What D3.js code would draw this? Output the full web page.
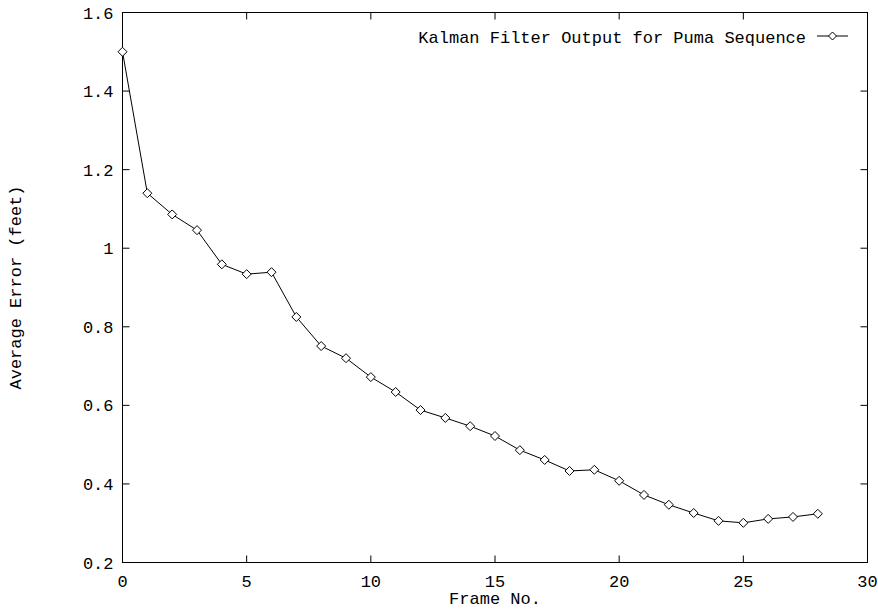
<!DOCTYPE html>
<html><head><meta charset="utf-8">
<script src="https://cdn.jsdelivr.net/npm/d3@7"></script>
<style>body{margin:0;background:#fff}svg{display:block}text{font-family:"Liberation Mono","DejaVu Sans Mono",monospace;font-size:17px;fill:#000}</style>
</head><body>
<script>
const frames = d3.range(0, 29);
const errors = [1.50,1.140,1.086,1.046,0.959,0.934,0.939,0.825,0.751,0.720,0.672,0.634,0.588,0.568,0.547,0.522,0.486,0.461,0.433,0.436,0.408,0.372,0.347,0.326,0.306,0.301,0.311,0.316,0.324];
const xTicks = [0,5,10,15,20,25,30];
const yTicks = [0.2,0.4,0.6,0.8,1,1.2,1.4,1.6];
const seriesLabel = "Kalman Filter Output for Puma Sequence";

const W = 878, H = 610;
const L = 122.5, R = 867.5, T = 12.5, B = 562.5;
const svg = d3.select("body").append("svg").attr("width", W).attr("height", H);
const x = d3.scaleLinear().domain([0,30]).range([L,R]);
const y = d3.scaleLinear().domain([0.2,1.6]).range([B,T]);
const tl = 7;
const g = svg.append("g").attr("stroke","#000").attr("stroke-width",1).attr("fill","none");
g.append("rect").attr("x",L).attr("y",T).attr("width",R-L).attr("height",B-T);
xTicks.forEach(t => {
  g.append("line").attr("x1",x(t)).attr("x2",x(t)).attr("y1",B).attr("y2",B-tl);
  g.append("line").attr("x1",x(t)).attr("x2",x(t)).attr("y1",T).attr("y2",T+tl);
  svg.append("text").attr("x",x(t)).attr("y",B+24).attr("text-anchor","middle").text(d3.format("d")(t));
});
yTicks.forEach(t => {
  g.append("line").attr("x1",L).attr("x2",L+tl).attr("y1",y(t)).attr("y2",y(t));
  g.append("line").attr("x1",R).attr("x2",R-tl).attr("y1",y(t)).attr("y2",y(t));
  svg.append("text").attr("x",L-9).attr("y",y(t)+6).attr("text-anchor","end").text(t===1?"1":d3.format(".1f")(t));
});
svg.append("text").attr("x",(L+R)/2).attr("y",604).attr("text-anchor","middle").text("Frame No.");
svg.append("text").attr("transform","translate(21,"+((T+B)/2)+") rotate(-90)").attr("text-anchor","middle").text("Average Error (feet)");

const data = frames.map((f,i)=>[f,errors[i]]);
svg.append("path").datum(data).attr("fill","none").attr("stroke","#000").attr("stroke-width",1)
  .attr("d", d3.line().x(d=>x(d[0])).y(d=>y(d[1])));
const s = 4.5;
const diamond = (cx,cy,r) => `M${cx},${cy-r}L${cx+r},${cy}L${cx},${cy+r}L${cx-r},${cy}Z`;
svg.append("g").selectAll("path").data(data).join("path")
  .attr("d", d=>diamond(x(d[0]),y(d[1]),s)).attr("fill","#fff").attr("stroke","#000").attr("stroke-width",1);

// legend
svg.append("text").attr("x",806).attr("y",43).attr("text-anchor","end").text(seriesLabel);
svg.append("line").attr("x1",817).attr("x2",848).attr("y1",36).attr("y2",36).attr("stroke","#000");
svg.append("path").attr("d",diamond(832.5,36,4)).attr("fill","#fff").attr("stroke","#000");
</script>
</body></html>
